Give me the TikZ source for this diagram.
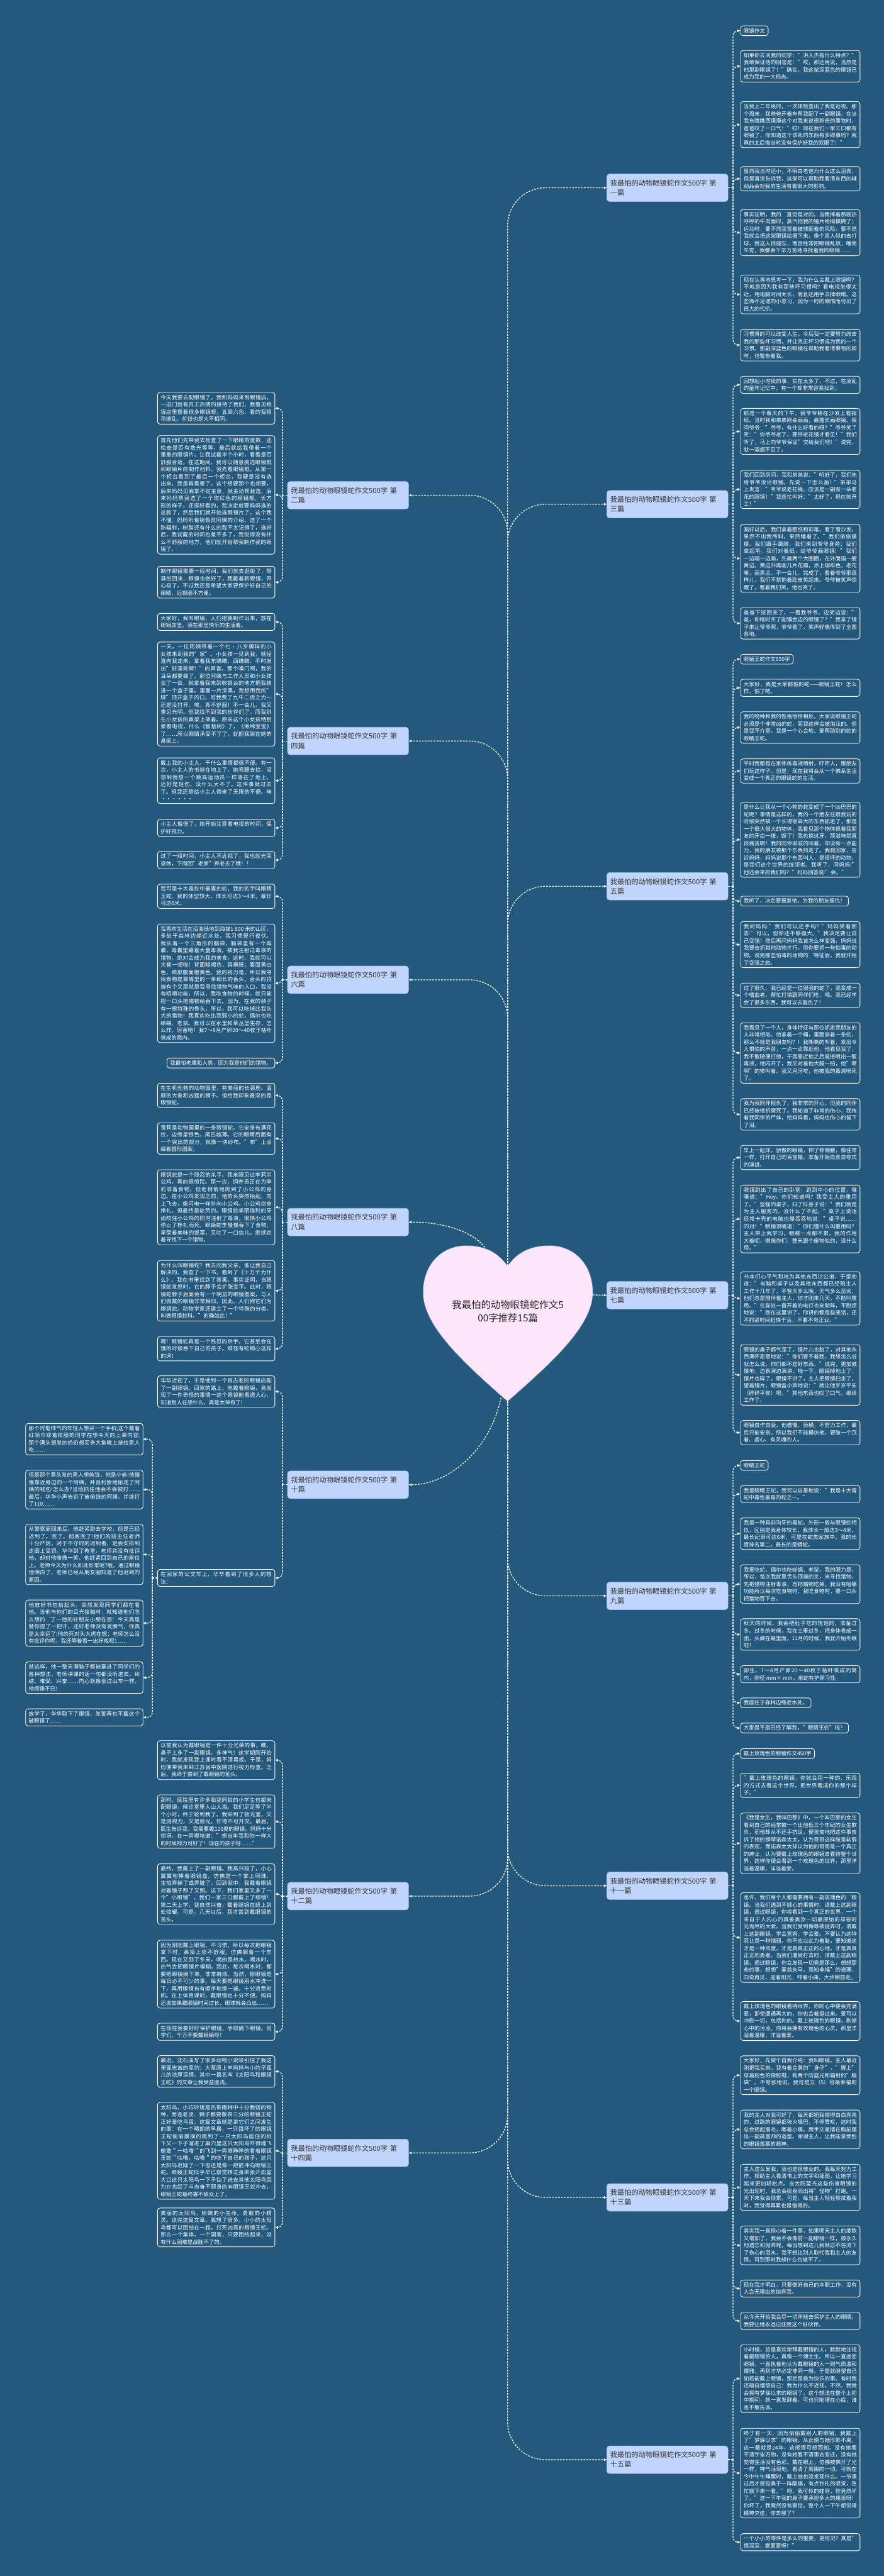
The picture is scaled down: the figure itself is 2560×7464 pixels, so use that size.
\documentclass[tikz,border=0pt]{standalone}
\usepackage{fontspec}
\setmainfont{Noto Sans CJK SC}
\usetikzlibrary{arrows.meta,calc}
\XeTeXlinebreaklocale "zh"
\XeTeXlinebreakskip=0pt plus 1pt
\definecolor{bg}{HTML}{24597D}
\definecolor{brfill}{HTML}{C0D5FD}
\definecolor{brborder}{HTML}{9DB8E8}
\definecolor{brtext}{HTML}{333333}
\definecolor{heartfill}{HTML}{FDE6FB}
\definecolor{heartborder}{HTML}{4A78B0}
\newcommand\leaffont{\fontsize{15.5pt}{21pt}\selectfont}
\newcommand\branchfont{\fontsize{20.5pt}{27.5pt}\selectfont}
\newcommand\heartfont{\fontsize{28pt}{38pt}\selectfont}
\tikzset{
 conn/.style={draw=white, line width=2.4pt, dash pattern=on 5pt off 3.5pt},
 arr/.style={-{Triangle[length=8pt,width=7pt]}},
 leaf/.style={draw=white, line width=1.6pt, fill=bg, rounded corners=7pt, text=white, font=\leaffont, text width=328pt, inner xsep=9pt, inner ysep=7pt, align=justify},
 lleaf/.style={leaf, text width=322pt},
 sleaf/.style={draw=white, line width=1.6pt, fill=bg, rounded corners=7pt, text=white, font=\leaffont, inner xsep=9pt, inner ysep=7pt},
 branch/.style={draw=brborder, line width=1pt, fill=brfill, rounded corners=8pt, text=brtext, font=\branchfont, text width=331pt, inner xsep=10pt, inner ysep=12pt, minimum height=80pt, align=left},
}
\newcommand\myRt[1]{\draw[conn] (#1.east) -- ++(14,0);}
\newcommand\myR[2]{\draw[conn,arr,rounded corners=15pt] ($(#1.east)+(14,0)$) |- (#2.west);}
\newcommand\myLt[1]{\draw[conn] (#1.west) -- ++(-14,0);}
\newcommand\myL[2]{\draw[conn,arr,rounded corners=15pt] ($(#1.west)+(-14,0)$) |- (#2.east);}
\begin{document}
\begin{tikzpicture}[x=1pt,y=-1pt]
\fill[bg] (0,0) rectangle (2560,7464);
\useasboundingbox (0,0) rectangle (2560,7464);
% heart
\fill[heartfill, draw=heartborder, line width=1pt] (1470,3668)
 .. controls (1500,3625) and (1540,3609) .. (1592,3609)
 .. controls (1665,3609) and (1717,3665) .. (1717,3745)
 .. controls (1717,3845) and (1590,3955) .. (1470,4061)
 .. controls (1350,3955) and (1225,3845) .. (1225,3745)
 .. controls (1225,3665) and (1277,3609) .. (1350,3609)
 .. controls (1400,3609) and (1440,3625) .. (1470,3668) -- cycle;
\node[font=\heartfont, text=black!85, align=center] (root) at (1471,3799) {我最怕的动物眼镜蛇作文5\\00字推荐15篇};
\coordinate (hn) at (1470,3668);
\coordinate (ht) at (1470,4061);
\coordinate (hr) at (1717,3752);
\coordinate (hl) at (1404,3614);
\coordinate (hb) at (1451,4050);

% branches
\node[branch, anchor=west] (b1) at (1757,544) {我最怕的动物眼镜蛇作文500字 第\\一篇};
\node[branch, anchor=west] (b3) at (1757,1461) {我最怕的动物眼镜蛇作文500字 第\\三篇};
\node[branch, anchor=west] (b5) at (1757,2568) {我最怕的动物眼镜蛇作文500字 第\\五篇};
\node[branch, anchor=west] (b7) at (1757,3753) {我最怕的动物眼镜蛇作文500字 第\\七篇};
\node[branch, anchor=west] (b9) at (1757,4624) {我最怕的动物眼镜蛇作文500字 第\\九篇};
\node[branch, anchor=west] (b11) at (1757,5464) {我最怕的动物眼镜蛇作文500字 第\\十一篇};
\node[branch, anchor=west] (b13) at (1757,6367) {我最怕的动物眼镜蛇作文500字 第\\十三篇};
\node[branch, anchor=west] (b15) at (1757,7127) {我最怕的动物眼镜蛇作文500字 第\\十五篇};
\node[branch, anchor=east] (b2) at (1184,1435) {我最怕的动物眼镜蛇作文500字 第\\二篇};
\node[branch, anchor=east] (b4) at (1184,2147) {我最怕的动物眼镜蛇作文500字 第\\四篇};
\node[branch, anchor=east] (b6) at (1184,2839) {我最怕的动物眼镜蛇作文500字 第\\六篇};
\node[branch, anchor=east] (b8) at (1184,3541) {我最怕的动物眼镜蛇作文500字 第\\八篇};
\node[branch, anchor=east] (b10) at (1184,4302) {我最怕的动物眼镜蛇作文500字 第\\十篇};
\node[branch, anchor=east] (b12) at (1184,5494) {我最怕的动物眼镜蛇作文500字 第\\十二篇};
\node[branch, anchor=east] (b14) at (1184,6238) {我最怕的动物眼镜蛇作文500字 第\\十四篇};

% heart to branches
\foreach \b in {b1,b3,b5} {\draw[conn,arr,rounded corners=110pt] (hn) |- (\b.west);}
\foreach \b in {b2,b4,b6} {\draw[conn,arr,rounded corners=110pt] (hn) |- (\b.east);}
\foreach \b in {b9,b11,b13,b15} {\draw[conn,arr,rounded corners=110pt] (ht) |- (\b.west);}
\foreach \b in {b12,b14} {\draw[conn,arr,rounded corners=110pt] (ht) |- (\b.east);}
\draw[conn,arr] (hr) -- (b7.west);
\draw[conn,arr] (hl) .. controls (1370,3570) and (1290,3541) .. (b8.east);
\draw[conn,arr] (hb) .. controls (1420,4200) and (1300,4302) .. (b10.east);

% ---------- right leaves ----------
\node[sleaf, anchor=west] (r1a) at (2144,89) {眼镜作文};
\node[leaf, anchor=west] (r1b) at (2144,192) {如果你去问我的同学："洪人杰有什么特点？"我敢保证他的回答是："哎，那还用说，当然是他那副眼镜了！"确实，我这架深蓝色的眼镜已成为我的一大标志。};
\node[leaf, anchor=west] (r1c) at (2144,361) {当我上二年级时，一次体检查出了我是近视。那个周末，我爸爸开着车帮我配了一副眼镜。在当我东瞧瞧西摸摸这个对我来说很新奇的事物时，爸爸叹了一口气："哎！现在我们一家三口都有眼镜了，你知道这个该死的东西有多碍事吗？我真的太后悔当时没有保护好我的双眼了！"};
\node[leaf, anchor=west] (r1d) at (2144,518) {虽然我当时还小，不明白老爸为什么这么沮丧，但是直觉告诉我，这架可以帮助我看清东西的辅助品会对我的生活有着很大的影响。};
\node[leaf, anchor=west] (r1e) at (2144,674) {事实证明，我的`直觉是对的。当我捧着那碗热呼呼的牛肉面时，蒸汽把我的镜片给搞模糊了；运动时，要不然我冒着被球砸着的风险，要不然我就会把这架眼镜给摘下来，像个盲人似的去打球。我这人很健忘，而且经常把眼镜乱放，睡完午觉，我都会千辛万苦地寻找着我的眼镜……};
\node[leaf, anchor=west] (r1f) at (2144,853) {现在认真地思考一下，我为什么会戴上眼镜啊？不就是因为我有那些坏习惯吗？看电视坐得太近，用电脑时间太长，而且还用手去揉眼睛。这些微不足道的小恶习，因为一时的懒惰而付出了很大的代价。};
\node[leaf, anchor=west] (r1g) at (2144,1000) {习惯真的可以改变人生。今后我一定要努力改去我的那些坏习惯，并让改正坏习惯成为我的一个习惯。那副深蓝色的眼镜在帮助我看清事物的同时，也警告着我。};

\node[leaf, anchor=west] (r3a) at (2144,1115) {回想起小时侯的事，实在太多了，不过，在凌乱的童年记忆中，有一个却非常容易找到。};
\node[leaf, anchor=west] (r3b) at (2144,1250) {那是一个春天的下午，我爷爷躺在沙发上看报纸。当时我和弟弟刚会画画，最擅长画眼镜。我问爷爷："爷爷，有什么好看的呀？"爷爷笑了笑："你爷爷老了，要带老花镜才看见！"我们听了，马上向爷爷保证"交给我们吧！"说完，就一溜烟不见了。};
\node[leaf, anchor=west] (r3c) at (2144,1418) {我们回到房间，我和弟弟说："听好了，我们先给爷爷设计眼镜。先说一下怎么画！"弟弟马上发言："爷爷说老花镜，应该是一副有一朵老花的眼镜！"我连忙叫好："太好了，现在就开工！"};
\node[leaf, anchor=west] (r3d) at (2144,1618) {画好以后，我们拿着图纸和彩笔，看了看沙发。果然不出我所料，果然睡着了。"我们偷偷摸摸，我们蹑手蹑脚，我们来到爷爷身旁；我们拿起笔，我们对着纸，给爷爷画眼镜！"我们一边唱一边画，先画两个大圈圈，在外面描一圈黄边，黄边外再画几片花瓣，涂上咖啡色，老花嘛，画黑点。不一会儿，完成了，看着爷爷那逗样儿，我们不禁抱着肚皮笑起来。爷爷被笑声惊醒了，看着我们笑，他也笑了。};
\node[leaf, anchor=west] (r3e) at (2144,1806) {爸爸下班回来了，一看我爷爷，边笑边说："爸，你啥时买了副镶金边的眼镜了？"我拿了镜子来让爷爷照，爷爷看了，笑声好像传到了全国各地。};

\node[sleaf, anchor=west] (r5a) at (2144,1910) {眼镜王蛇作文650字};
\node[leaf, anchor=west] (r5b) at (2144,1993) {大家好，我是大家都怕的蛇——眼镜王蛇！怎么样，怕了吧。};
\node[leaf, anchor=west] (r5c) at (2144,2108) {我的物种和我的性格恰恰相反。大家说眼镜王蛇必须是个非常凶的蛇，而我这样会被淘汰的。但是我不介意，我是一个心会软、爱帮助别的蛇的眼睛王蛇。};
\node[leaf, anchor=west] (r5d) at (2144,2234) {平时我都是在家练练毒液喷射，吓吓人，跟朋友们玩这样子。但是，现在我将会从一个佛系生活变成一个真正的眼镜蛇的生活。};
\node[leaf, anchor=west] (r5e) at (2144,2433) {是什么让我从一个心软的蛇变成了一个凶巴巴的蛇呢？事情是这样的，我的一个朋友在跟我玩的时候突然被一个长得很高大的东西抓走了，那是一个很大很大的物体，我看见那个物体抓着我朋友的牙齿一拔，断了！我也换过牙，那滋味简直很痛苦啊！我的同伴滋滋的叫着，却没有一点能力，我的朋友被那个东西抓走了。我爬回家，告诉妈妈，妈妈说那个东西叫人，是很坏的动物，是我们这个世界的统领者。我听了，问妈妈:"他还会来抓我们吗？"妈妈回答说:"会。"};
\node[sleaf, anchor=west] (r5f) at (2144,2611) {我听了，决定要报复他，为我的朋友报仇！};
\node[leaf, anchor=west] (r5g) at (2144,2737) {我问妈妈:"我们可以还手吗？"妈妈笑着回答:"可以，但你还不够强大。"我决定要让自己变强！然后再问妈妈我该怎么样变强，妈妈说我要去抓其他动物才行。但你要抓一些怕毒的动物。说完那些怕毒的动物的`特征后，我就开始了变强之旅。};
\node[leaf, anchor=west] (r5h) at (2144,2884) {过了很久，我已经是一位很强的蛇了。我变成一个嗜血者，帮忙打猎跟同伴们吃，喝。我已经学会了很多东西，我可以去复仇了！};
\node[leaf, anchor=west] (r5i) at (2144,3051) {我看见了一个人，身体特征与那位抓走我朋友的人非常相似。他拿着一个桶，里面装着一条蛇，那么不就是我朋友吗？！我嘶嘶的叫着，发出令人惧怕的声音，一点一点靠近他，他看见我了，我不敢随便打他，于是靠近他之后直接喷出一股毒液，他闪开了，我又对着他大腿一拍，他"啊啊"的惨叫着。我又用牙咬，他被我的毒液喷死了。};
\node[leaf, anchor=west] (r5j) at (2144,3229) {我为我同伴报仇了，我非常的开心。但我的同伴已经被他折磨死了。我知道了非常的伤心，我拖着我同伴的尸体，给妈妈看，妈妈也伤心的留下了泪。};

\node[leaf, anchor=west] (r7a) at (2144,3354) {早上一起床，骄傲的眼镜，伸了伸懒腰，像往常一样，打开自己的百宝箱，准备开始自卖自夸式的演讲。};
\node[leaf, anchor=west] (r7b) at (2144,3532) {眼镜跳出了自己的卧室，跑到中心的位置，嚷嚷道："Hey，你们知道吗？我受主人的重用了。"坚强的桌子，抖了抖身子说："我们就是为主人服务的，没什么了不起。"桌子上说话经常卡壳的电脑也慢吞吞地说："桌子说……的对！"眼镜顶嘴道："你们懂什么叫重用吗？主人带上我学习，眼睛一点都不累，我的作用大着呢，哪像你们，整天跟个废物似的，没什么用。"};
\node[leaf, anchor=west] (r7c) at (2144,3762) {书本们心平气和地为其他东西讨公道，于是劝道："电脑和桌子以及其他东西都已经陪主人工作十几年了，不管天多么晚，天气多么恶劣，他们总是陪伴着主人，你才刚来几天，不能叫重用。"在高处一直开着的电灯也来助阵，不耐烦地说："别在这里讲了，你讲的都是些废话，还不抓紧时间赶快干活，不要不务正业。"};
\node[leaf, anchor=west] (r7d) at (2144,3984) {眼镜的鼻子都气歪了，镜片儿也脏了，对其他东西满怀恶意地说："你们管不着我，我想怎么说就怎么说，你们都不是好东西。"说完，更加傲慢地，边表演边演讲，啪一下，眼镜掉地上了，镜片也碎了，眼镜不讲了，主人把眼镜扫走了，望着镜片，眼镜盒小声地说："就让他岁岁平安（碎碎平安）吧。"其他东西也叹了口气，继续工作了。};
\node[leaf, anchor=west] (r7e) at (2144,4151) {眼镜自作自受，他傲慢，骄横，不努力工作，最后只能安息，所以我们不能模仿他，要做一个沉着、虚心、有灵魂的人。};

\node[sleaf, anchor=west] (r9a) at (2144,4246) {眼睛王蛇};
\node[leaf, anchor=west] (r9b) at (2144,4329) {我是眼睛王蛇，我可以自豪地说："我是十大毒蛇中毒性最毒的蛇之一。"};
\node[leaf, anchor=west] (r9c) at (2144,4444) {我是一种具前沟牙的毒蛇。外形一般与眼镜蛇相似，区别是我身体较长，我体长一般达3～4米，最长纪录可达6米，可是在蛇类家族中，我的长度排名第二，最长的是蟒蛇。};
\node[leaf, anchor=west] (r9d) at (2144,4590) {我爱吃蛇，偶尔也吃蜥蜴、老鼠，我的眼力是，所以，每次我就靠舌头顶端的叉，来寻找猎物，先把猎物注射毒液，再把猎物吃掉，我没有咀嚼功能所以每次吃食物时，我吃食物时，要一口头把猎物吞下去。};
\node[leaf, anchor=west] (r9e) at (2144,4736) {秋天的时候，我会把肚子吃的饱饱的，准备过冬。过冬的时候，我在土里过冬，把身体卷成一团，头藏在最里面，11月的时候，我就开始冬眠啦！};
\node[leaf, anchor=west] (r9f) at (2144,4851) {卵生，7～8月产卵20～40枚于枯叶筑成的窝内，卵径 mm× mm。亲蛇有护卵习性。};
\node[sleaf, anchor=west] (r9g) at (2144,4934) {我居住于森林边缘近水处。};
\node[sleaf, anchor=west] (r9h) at (2144,5007) {大家是不是已经了解我，"眼睛王蛇"啦？};

\node[sleaf, anchor=west] (r11a) at (2144,5081) {戴上玫瑰色的眼镜作文450字};
\node[leaf, anchor=west] (r11b) at (2144,5173) {"戴上玫瑰色的眼镜，你就会用一种的，乐观的方式去看这个世界，把世界看成你的那个样子。"};
\node[leaf, anchor=west] (r11c) at (2144,5341) {《我是女生，我叫巴黎》中，一个叫巴黎的女生看到自己的经常被一个比他低三个年纪的女生欺负，而他却从不还手抗议，便苦恼地把这件事告诉了她的钢琴诺森太太，认为哥哥这样做是软弱的表现，而诺森太太却认为他的哥哥是一个真正的绅士，认为要戴上玫瑰色的眼镜去看待整个世界，这样你便会看到一个玫瑰色的世界，那里洋溢着温暖，洋溢着爱。};
\node[leaf, anchor=west] (r11d) at (2144,5614) {也许，我们每个人都需要拥有一副玫瑰色的`眼镜。当我们遇到不顺心的事情时，请戴上这副眼镜，透过眼镜，你将看到一个真正的世界，一个来自于人内心的真善美及一切最原始的却被时光淘尽的大爱。当我们受到侮辱被捉弄时，请戴上这副眼镜，学会宽容，学会爱。不要认为这种忍让是一种懦弱，你不应以此为羞耻，要知道这才是一种风度，才是真真正正的心地，才是真真正正的勇者。当我们遭受打击时，请戴上这副眼镜，透过眼镜，你会发现一切竟是那么，想想那些的事，想想"塞翁失马，焉知非福"的道理，向说再见，迎着阳光，哼着小曲，大步朝前走。};
\node[leaf, anchor=west] (r11e) at (2144,5856) {戴上玫瑰色的眼镜看待世界，你的心中便会充满爱，即使遭遇再大的，你也会着挺过来。爱可以冲刷一切，包括你的。戴上玫瑰色的眼镜，刷掉心中的污点，你将会拥有玫瑰色的心灵，那里洋溢着温暖，洋溢着爱。};

\node[leaf, anchor=west] (r13a) at (2144,6013) {大家好，先做个自我介绍：我叫眼镜，主人最近刚把我买来。我有着金黄的"身子"，"脚上"穿着粉色的橡胶鞋，有两个防蓝光和辐射的"脑袋"。不夸张地说，我可是五（5）班最幸福的一个眼镜。};
\node[leaf, anchor=west] (r13b) at (2144,6170) {我的主人对我可好了，每天都把我擦得白白亮亮的，过路的眼镜都张大嘴巴，不停赞叹，这时我总会扬起眉毛，嘟着小嘴，两手交差摆在胸前摆出一副高富帅的造型。谢谢主人，让我能享受别的眼镜羡慕的眼神。};
\node[leaf, anchor=west] (r13c) at (2144,6338) {主人这么爱我，我也是很敬业的。我每天努力工作，帮助主人看清书上的文字和插图，让她学习起来更加轻松点。当太阳蓝光这些伤害眼镜的光出现时，我总会挺身而出将"怪物"打跑。一天下来我会很累。可是，每当主人轻轻擦拭着我时，我觉得再累也是值得的。};
\node[leaf, anchor=west] (r13d) at (2144,6506) {其实我一直担心着一件事，如果哪天主人的度数又增加了，我会不会像前一副眼镜一样，被永久地遗忘和抛弃呢，每当想到这儿我就忍不住流下了伤心的泪水，我不想让别人取代我和主人的友情。可到那时我却什么也做不了。};
\node[leaf, anchor=west] (r13e) at (2144,6631) {现在我才明白，只要做好自己的本职工作，没有人会无理由的抛弃我。};
\node[leaf, anchor=west] (r13f) at (2144,6725) {从今天开始我会尽一切所能去保护主人的眼睛。我要让她永远记住我这个好伙伴。};

\node[leaf, anchor=west] (r15a) at (2144,6892) {小时候，总是喜欢崇拜戴眼镜的人，默默地注视着戴眼镜的人，真像一个博士生。所以一直迷恋眼镜，一直执着地认为戴眼镜的人一则气质温和儒雅，再则才华必定非同一般。于是就盼望自己如若能戴上眼镜，那定是极为快乐的事。有时我还暗自埋怨自己：我为什么不近视，不然，我就会拥有梦寐以求的眼镜了。这个想法在整个上初中期间，就一直发酵着，可也只能埋在心底，谁也不敢告诉。};
\node[leaf, anchor=west] (r15b) at (2144,7166) {终于有一天，因为偷偷戴别人的眼镜，我戴上了"梦寐以求"的眼镜。从此便与她形影不离，这一戴就是24年，这感情可想而知。没有她看不清宇宙万物，没有她看不清事态变迁，没有她觉得生活没有色彩。戴在眼上，仿佛被佛开了光一样，神气活现地，看清了周围的一切。可就在今中午午睡醒时，戴上她也没发现什么。一节课过后才感觉鼻子一阵酸痛，有点针扎的感觉，急忙摘下来一看。"呀，我可怜的娃呀，你竟然坏了。"这一下午我的鼻子要承担多大的痛苦呀！你坏了，我竟然没有察觉，整个人一下午都觉得精神欠佳，你去哪了？};
\node[leaf, anchor=west] (r15c) at (2144,7366) {一个小小的零件是多么的重要，更何况？真是"情深深，雾蒙蒙呀！"};

% ---------- left leaves ----------
\node[lleaf, anchor=east] (l2a) at (797,1183) {今天我要去配眼镜了，我和妈妈来到眼镜店，一进门就有员工热情的接待了我们，我看见眼镜店里摆着很多眼镜框，五颜六色，看的我眼花缭乱，价钱也是大不相同。};
\node[lleaf, anchor=east] (l2b) at (797,1434) {首先他们先带我去检查了一下眼睛的度数，还检查是否有散光等等，最后就给我带着一个重重的眼镜片，让我试戴半个小时，看看是否舒服合适，在这期间，我可以随意挑选眼镜框和眼镜片的制作材料，我先看眼镜框，从第一个柜台看到了最后一个柜台，我硬是没有选出来，我是真看晕了，这个想要那个也想要，后来妈妈见我拿不定主意，就主动帮我选，后来妈妈帮我选了一个玫红色的眼镜框，长方形的样子，还挺好看的，我决定就要妈妈选的这款了，然后我们就开始选眼镜片了，这个我不懂，妈妈听着销售员阿姨的介绍，选了一个防辐射，树脂还有什么的我不太记得了，选好后，我试戴的时间也差不多了，我觉得没有什么不舒服的地方，他们就开始帮我制作我的眼镜了。};
\node[lleaf, anchor=east] (l2c) at (797,1687) {制作眼镜需要一段时间，我们就去逛街了，等逛街回来，眼镜也做好了，我戴着新眼镜，开心极了。不过我还是希望大家要保护好自己的眼睛，近视眼不方便。};

\node[lleaf, anchor=east] (l4a) at (797,1802) {大家好，我叫眼镜，人们把我制作出来，放在眼镜店里。我在那里快乐的生活着。};
\node[lleaf, anchor=east] (l4b) at (797,2011) {一天，一位阿姨带着一个七·八岁模样的小女孩来到我的"家"。小女孩一见到我，就径直向我走来，拿着我东瞧瞧，西瞧瞧，不时发出"好漂亮啊！"的声音。那个嗓门啊，我的耳朵都要聋了。那位阿姨与工作人员和小女孩谈了一谈，就拿着我来到收银台的地方把我装进一个盒子里。里面一片漆黑，我想用我的"脚"顶开盒子的口，可我费了九牛二虎之力一还是没打开。唉，真不舒服！不一会儿，我又重见光明，但我找不到我的伙伴们了，而我则在小女孩的鼻梁上架着。原来这个小女孩特别爱看电视，什么《智慧树》了，《海绵宝宝》了……所以眼睛承受不了了，就把我架在她的鼻梁上。};
\node[lleaf, anchor=east] (l4c) at (797,2262) {戴上我的小主人，干什么事情都很不便。有一次，小主人的书掉在地上了，她弯腰去捡，没想到我想一个跳高运动员一样落在了地上，还好是轻伤，没什么大不了。这件事就过去了。但我还是给小主人带来了无限的不便。唉······};
\node[lleaf, anchor=east] (l4d) at (797,2399) {小主人悔悟了，她开始注意看电视的时间，保护好视力。};
\node[lleaf, anchor=east] (l4e) at (797,2492) {过了一段时间，小主人不近视了，我也就光荣退休，下岗回"老家"养老去了哦！！};

\node[lleaf, anchor=east] (l6a) at (797,2597) {我可是十大毒蛇中最毒的蛇，我的名字叫眼睛王蛇。我的体型较大，体长可达3～4米，最长可达6米。};
\node[lleaf, anchor=east] (l6b) at (797,2849) {我喜欢生活在沿海低地到海拔1 800 米的山区，多处于森林边缘近水处，我习惯昼行夜伏。我长着一个三角形的脑袋，脑袋里有一个毒囊，毒囊里藏着大量毒液。被我注射过毒液的猎物，绝对会成为我的美食，这时，我就可以大餐一顿啦！背面暗褐色，具横斑；腹面黄白色，颈部腹面橙黄色。我的视力是，所以我寻找食物是靠嘴里的一条细长的舌头，舌头的顶端有个叉那就是我寻找猎物气味的入口，我没有咀嚼功能，所以，我吃食物的时候，就只能把一口头把猎物给吞下去。因为，在我的颈子有一根特殊的骨头，所以，我可以吃掉比我头大的猎物！我喜欢吃比我弱小的蛇，偶尔也吃蜥蜴、老鼠。我可以在水里和草丛里生存，怎么样，厉害吧！我7～8月产卵20～40枚于枯叶筑成的窝内。};
\node[sleaf, anchor=east] (l6c) at (797,3080) {我最怕老鹰和人类，因为我是他们的猎物。};

\node[lleaf, anchor=east] (l8a) at (797,3174) {在生机勃勃的动物园里，有美丽的长颈鹿、温顺的大象和凶猛的狮子。但给我印象最深的是眼镜蛇。};
\node[lleaf, anchor=east] (l8b) at (797,3299) {雪莉是动物园里的一条眼镜蛇。它全身布满花纹，边缘呈银色。尾巴越薄。它的眼睛后面有一个突出的部分，就像一块纱布。"布"上点缀着圆形图案。};
\node[lleaf, anchor=east] (l8c) at (797,3498) {眼镜蛇是一个残忍的杀手。我亲眼见过李莉杀公鸡，真的很惊险。那一次，饲养员正在为李莉准备食物，但他悄悄地爬到了小公鸡的身边。在小公鸡发现之前，他的头突然抬起，向上飞去，像闪电一样扑向小公鸡。小公鸡拼命挣扎，但最终是徒劳的。眼镜蛇李丽锋利的牙齿咬住小公鸡的同时注射了毒液，很快小公鸡停止了挣扎而死。眼镜蛇李慢慢吞下了食物，享受着美味的饭菜，又吐了一口信儿，继续走着寻找下一个猎物。};
\node[lleaf, anchor=east] (l8d) at (797,3740) {为什么叫眼镜蛇？我去问我父亲，谁让我自己解决的。我查了一下书，看到了《十万个为什么》。我在书里找到了答案。事实证明，当眼镜蛇发怒时，它的脖子会扩张变平。此时，眼镜蛇脖子后面会有一个明显的眼镜图案，与人们佩戴的眼镜非常相似。因此，人们称它们为眼镜蛇。动物学家还建立了一个特殊的分类，叫做眼镜蛇科。"的确如此！"};
\node[lleaf, anchor=east] (l8e) at (797,3908) {啊！眼镜蛇真是一个残忍的杀手。它甚至会在饿的时候吞下自己的孩子。难怪有蛇蝎心这样的词！};

\node[lleaf, anchor=east] (l10a) at (797,4032) {华华近视了，于是他到一个很古老的眼镜店配了一副眼镜。回家的路上，他戴着眼镜，竟发现了一件奇怪的事情一这个眼镜能看透人心，知道别人在想什么。真是太神奇了!};
\node[lleaf, anchor=east] (l10b) at (797,4572) {在回家的公交车上，华华看到了很多人的想法：};
\node[lleaf, anchor=east] (f1) at (415,4170) {那个时髦帅气的年轻人想买一个手机;这个戴着红领巾穿着校服的同学在想今天的上课内容;那个满头银发的奶奶想买条大鱼晚上烧给家人吃……};
\node[lleaf, anchor=east] (f2) at (415,4316) {但是那个黄头发的男人想偷钱，他是小偷!他慢慢靠近旁边的一个阿姨，并且利索地偷走了阿姨的钱包!怎么办?当场抓住他会不会被打……最后，华华小声告诉了被偷钱的阿姨，并拨打了110……};
\node[lleaf, anchor=east] (f3) at (415,4504) {从警察局回来后，他赶紧跑去学校，但是已经迟到了。完了，彻底完了!他们的班主任老师十分严厉，对于不守时的迟到者，定会安排到走廊上受罚。华华到了教室，老师并没有批评他，却对他微微一笑，他赶紧回到自己的座位上。老师今天为什么如此反常呢?哦，通过眼镜他明白了，老师已经从朋友圈知道了他迟到的原因。};
\node[lleaf, anchor=east] (f4) at (415,4703) {他放好书包抬起头，突然发现同学们都在看他。当他与他们的目光接触时，就知道他们怎么想的`了一他的好朋友小朋在想：今天真是替你捏了一把汗，还好老师没有发脾气，你真是太幸运了!他的死对头大虎在想：老师怎么没有批评你呢，我还等着看一出好戏呢!……};
\node[lleaf, anchor=east] (f5) at (415,4861) {就这样，他一整天满脑子都被塞进了同学们的各种想法，老师讲课的话一句都没听进去。纠结、难受、兴奋……内心就像坐过山车一样，他烦躁不已!};
\node[lleaf, anchor=east] (f6) at (415,4976) {放学了，华华取下了眼镜，发誓再也不戴这个破眼镜了……};

\node[lleaf, anchor=east] (l12a) at (797,5100) {以前我认为戴眼镜是一件十分光荣的事，瞧，鼻子上多了一副眼镜，多神气！这学期刚开始时，我就发现我上课时看不清黑板。于是，妈妈便带我来到江苏省中医院进行视力检查。之后，我终于尝到了戴眼镜的苦头。};
\node[lleaf, anchor=east] (l12b) at (797,5278) {那时，医院里有许多和我同龄的小学生也都来配眼镜，候诊室里人山人海。我们足足等了半个小时，终于轮到我了。我来到了验光室，又是测视力，又是验光，忙得不可开交。最后，医生告诉我，我需要戴120度的眼镜。妈妈十分惊讶，在一旁嘟哝道："想当年我和你一样大的时候视力可好了！现在的孩子呀……"};
\node[lleaf, anchor=east] (l12c) at (797,5488) {最终，我戴上了一副眼镜。我高兴极了，小心翼翼地捧着眼镜盒，仿佛是一个掌上明珠，生怕弄掉了或弄脏了。回到家中，我戴着眼镜对着镜子照了又照。这下，我们家里又多了一个"小眼镜"。我们一家三口都戴上了眼镜！第二天上学，我自然兴奋，戴着眼镜在班上到处炫耀。可是，几天以后，我才尝到戴眼镜的苦头。};
\node[lleaf, anchor=east] (l12d) at (797,5720) {因为刚刚戴上眼镜，不习惯，所以每次把眼镜拿下时，鼻梁上很不舒服，仿佛搁着一个东西。现在又到了冬天，喝的是热水，喝水时，热气会把眼镜片模糊。因此，每次喝水时，都要把眼镜摘下来，非常麻烦。当然，擦眼镜是每日必不可少的事，每天要把眼镜用水冲洗一下，再用眼镜布有顺序地擦一遍。十分浪费时间。在上体育课时，戴眼镜也十分不便。妈妈还说如果戴眼镜时间过长，眼球就会凸出……};
\node[lleaf, anchor=east] (l12e) at (797,5887) {在现在我要好好保护眼镜，争取摘下眼镜。同学们，千万不要戴眼镜呀！};

\node[lleaf, anchor=east] (l14a) at (797,6002) {最近，沈石溪写了很多动物小说吸引住了我这里面忠诚的黑豹；大草原上羊妈妈与小豹子孤儿的浓厚深情。其中一篇名叫《太阳鸟和眼镜王蛇》的文章让我受益匪浅。};
\node[lleaf, anchor=east] (l14b) at (797,6232) {太阳鸟，小巧玲珑是热带雨林中十分脆弱的物种，而连老虎、狮子都要敬畏三分的眼镜王蛇正好爱吃鸟蛋。这篇文章就是讲它们之间发生的事：在一个晴朗的早晨，一只饿坏了的眼镜王蛇偷偷摸摸的爬到了一只太阳鸟居住的树下又一下子溜进了巢穴里这只太阳鸟吓得魂飞魄散＂一咕噜＂的飞到一旁眼睁睁的看着眼镜王蛇＂咕噜，咕噜＂的吃下自己的孩子，这只太阳鸟迟疑了一下但还是像一把箭冲向眼镜王蛇。眼镜王蛇似乎早已察觉转过身来张开血盆大口这只太阳鸟一下子钻了进去其他太阳鸟因为它也起了斗志奋不顾身的向眼镜王蛇冲去，眼镜王蛇最终寡不敌众上了。};
\node[lleaf, anchor=east] (l14c) at (797,6454) {美丽的太阳鸟，娇嫩的小生命，勇敢的小精灵。读完这篇文章，我想了很多。小小的太阳鸟都可以团结在一起，打死凶恶的眼镜王蛇。那么一个集体，一个国家，只要团结起来，没有什么困难是战胜不了的。};

% ---------- leaf connectors ----------
\myRt{b1}\foreach \n in {r1a,r1b,r1c,r1d,r1e,r1f,r1g} {\myR{b1}{\n}}
\myRt{b3}\foreach \n in {r3a,r3b,r3c,r3d,r3e} {\myR{b3}{\n}}
\myRt{b5}\foreach \n in {r5a,r5b,r5c,r5d,r5e,r5f,r5g,r5h,r5i,r5j} {\myR{b5}{\n}}
\myRt{b7}\foreach \n in {r7a,r7b,r7c,r7d,r7e} {\myR{b7}{\n}}
\myRt{b9}\foreach \n in {r9a,r9b,r9c,r9d,r9e,r9f,r9g,r9h} {\myR{b9}{\n}}
\myRt{b11}\foreach \n in {r11a,r11b,r11c,r11d,r11e} {\myR{b11}{\n}}
\myRt{b13}\foreach \n in {r13a,r13b,r13c,r13d,r13e,r13f} {\myR{b13}{\n}}
\myRt{b15}\foreach \n in {r15a,r15b,r15c} {\myR{b15}{\n}}
\myLt{b2}\foreach \n in {l2a,l2b,l2c} {\myL{b2}{\n}}
\myLt{b4}\foreach \n in {l4a,l4b,l4c,l4d,l4e} {\myL{b4}{\n}}
\myLt{b6}\foreach \n in {l6a,l6b,l6c} {\myL{b6}{\n}}
\myLt{b8}\foreach \n in {l8a,l8b,l8c,l8d,l8e} {\myL{b8}{\n}}
\myLt{b10}\foreach \n in {l10a,l10b} {\myL{b10}{\n}}
\myLt{l10b}\foreach \n in {f1,f2,f3,f4,f5,f6} {\myL{l10b}{\n}}
\myLt{b12}\foreach \n in {l12a,l12b,l12c,l12d,l12e} {\myL{b12}{\n}}
\myLt{b14}\foreach \n in {l14a,l14b,l14c} {\myL{b14}{\n}}
\end{tikzpicture}
\end{document}
